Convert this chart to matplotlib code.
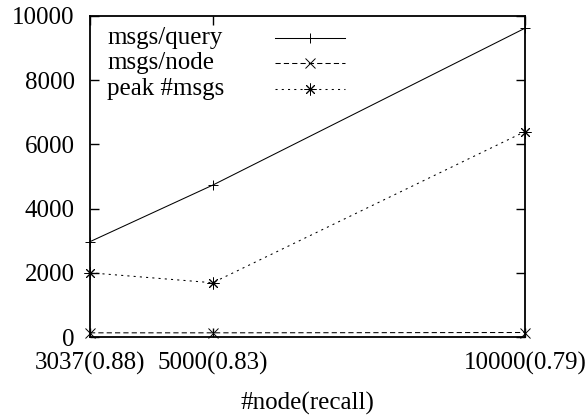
import matplotlib
matplotlib.use("Agg")
import matplotlib.pyplot as plt

nodes = [3037, 5000, 10000]
tick_labels = ["3037(0.88)", "5000(0.83)", "10000(0.79)"]
msgs_query = [2970, 4730, 9620]
msgs_node = [130, 130, 140]
peak_msgs = [2000, 1690, 6400]
series_names = ["msgs/query", "msgs/node", "peak #msgs"]

plt.rcParams['font.family'] = ['Liberation Serif', 'DejaVu Serif']

fig = plt.figure(figsize=(5.87, 4.19), dpi=100)
ax = fig.add_axes([90/587, 1-337/419, (525-90)/587, (337-16)/419])

FS = 18
lw = 0.75
styles = [
    dict(ls='-', marker='+', ms=6.5),
    dict(ls=(0, (5, 3)), marker='x', ms=6.5),
    dict(ls=(0, (2, 4)), marker=(8, 2, 0), ms=8.5),
]
data = [msgs_query, msgs_node, peak_msgs]
for vals, st in zip(data, styles):
    ax.plot(nodes, vals, color='black', lw=lw, linestyle=st['ls'],
            marker=st['marker'], ms=st['ms'], mew=0.7, clip_on=False)

ax.set_xlim(nodes[0], nodes[-1])
ax.set_ylim(0, 10000)
ax.set_xticks(nodes)
ax.set_xticklabels(tick_labels)
ax.set_yticks(range(0, 10001, 2000))
ax.tick_params(direction='in', length=6.5, width=1, labelsize=FS,
               top=True, right=True, pad=11)
ax.tick_params(axis='x', pad=11)
for s in ax.spines.values():
    s.set_linewidth(1.3)
ax.set_xlabel("#node(recall)", fontsize=FS, labelpad=12)

# manual key (gnuplot style: text left, sample right)
ys = [1 - (37.7-16)/321, 1 - (63.3-16)/321, 1 - (89-16)/321]
x0, x1 = (275-90)/435, (345-90)/435
xm = (x0 + x1) / 2
for name, st, y in zip(series_names, styles, ys):
    ax.text((107-90)/435, y, name, transform=ax.transAxes, fontsize=FS,
            va='center', ha='left')
    ax.plot([x0, x1], [y, y], transform=ax.transAxes, color='black', lw=lw,
            linestyle=st['ls'])
    ax.plot([xm], [y], transform=ax.transAxes, color='black',
            marker=st['marker'], ms=st['ms'], mew=0.7, linestyle='none')

fig.savefig("out.png", dpi=100)
